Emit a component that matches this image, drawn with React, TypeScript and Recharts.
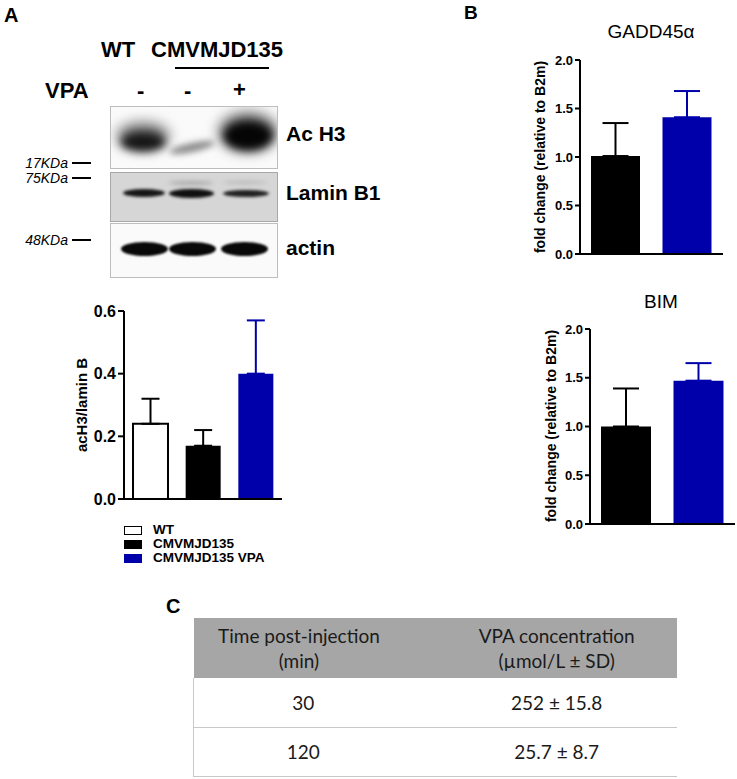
import React from 'react';
import { BarChart, Bar, XAxis, YAxis, ErrorBar, Cell } from 'recharts';

// panel A quantification
const acCategories = ['WT', 'CMVMJD135', 'CMVMJD135 VPA'];
const acValues = [0.24, 0.17, 0.4];
const acErrors = [0.08, 0.05, 0.17];
const acTicks = [0, 0.2, 0.4, 0.6];

// panel B qPCR
const geneGroups = ['CMVMJD135', 'CMVMJD135 VPA'];
const gaddValues = [1.01, 1.41];
const gaddErrors = [0.34, 0.27];
const bimValues = [1.0, 1.47];
const bimErrors = [0.39, 0.18];
const foldTicks = [0, 0.5, 1, 1.5, 2];

// panel C table
const tableHeader = [['Time post-injection', '(min)'], ['VPA concentration', '(\u00b5mol/L \u00b1 SD)']];
const tableTimes = ['30', '120'];
const tableConc = ['252 \u00b1 15.8', '25.7 \u00b1 8.7'];

const BLUE = '#0000aa';
const groupFill: Record<string, string> = { WT: '#ffffff', CMVMJD135: '#000000', 'CMVMJD135 VPA': BLUE };
const ARIAL = 'Arial, "Liberation Sans", sans-serif';

const toRows = (names: string[], values: number[], errors: number[]) =>
  names.map((name, i) => ({
    name,
    value: values[i],
    errDark: groupFill[name] !== BLUE ? [0, errors[i]] : undefined,
    errBlue: groupFill[name] === BLUE ? [0, errors[i]] : undefined,
  }));

const acData = toRows(acCategories, acValues, acErrors);
const gaddData = toRows(geneGroups, gaddValues, gaddErrors);
const bimData = toRows(geneGroups, bimValues, bimErrors);

const T: React.FC<{ x: number; y: number; size: number; bold?: boolean; italic?: boolean; children: React.ReactNode }> = ({ x, y, size, bold, italic, children }) => (
  <div style={{ position: 'absolute', left: x, top: y, fontSize: size, lineHeight: 1, fontWeight: bold ? 'bold' : 'normal', fontStyle: italic ? 'italic' : 'normal', fontFamily: ARIAL, whiteSpace: 'nowrap', color: '#000' }}>
    {children}
  </div>
);

const VLabel: React.FC<{ cx: number; cy: number; size: number; children: React.ReactNode }> = ({ cx, cy, size, children }) => (
  <div style={{ position: 'absolute', left: cx, top: cy, transform: 'translate(-50%, -50%) rotate(-90deg)', fontSize: size, lineHeight: 1, fontWeight: 'bold', fontFamily: ARIAL, whiteSpace: 'nowrap' }}>
    {children}
  </div>
);

const blob = (l: number, t: number, w: number, h: number, bg: string, blur: number, extra: React.CSSProperties = {}) => (
  <div style={{ position: 'absolute', left: l, top: t, width: w, height: h, background: bg, borderRadius: '50%', filter: `blur(${blur}px)`, ...extra }} />
);

const KDa: React.FC<{ y: number; label: string }> = ({ y, label }) => (
  <>
    <div style={{ position: 'absolute', right: 737 - 68, top: y - 7, fontSize: 14, lineHeight: 1, fontStyle: 'italic', fontFamily: ARIAL }}>{label}</div>
    <div style={{ position: 'absolute', left: 72, top: y - 1, width: 19, height: 2, background: '#000' }} />
  </>
);

const Blot = () => (
  <>
    {/* Ac H3 */}
    <div style={{ position: 'absolute', left: 110, top: 106, width: 168, height: 63, border: '1px solid #bdbdbd', background: '#fafafa', overflow: 'hidden', boxSizing: 'border-box' }}>
      {blob(6, 16, 52, 26, '#666', 7)}
      {blob(10, 26, 44, 18, '#151515', 4)}
      {blob(58, 36, 46, 9, '#8a8a8a', 3, { transform: 'rotate(-12deg)' })}
      {blob(108, 6, 58, 38, '#555', 7)}
      {blob(113, 15, 48, 28, '#050505', 4)}
    </div>
    {/* Lamin B1 */}
    <div style={{ position: 'absolute', left: 110, top: 172, width: 168, height: 50, border: '1px solid #a8a8a8', background: '#d6d6d6', overflow: 'hidden', boxSizing: 'border-box' }}>
      {blob(58, 8, 44, 4, '#aaa', 2)}
      {blob(112, 8, 44, 3, '#b5b5b5', 2)}
      {blob(12, 16, 42, 8, '#151515', 1.5)}
      {blob(58, 16, 45, 9, '#101010', 1.5)}
      {blob(112, 17, 46, 7, '#202020', 1.5)}
    </div>
    {/* actin */}
    <div style={{ position: 'absolute', left: 110, top: 223, width: 168, height: 55, border: '1px solid #bdbdbd', background: '#fafafa', overflow: 'hidden', boxSizing: 'border-box' }}>
      {blob(10, 18, 47, 14, '#080808', 1)}
      {blob(58, 18, 47, 14, '#080808', 1)}
      {blob(110, 18, 47, 14, '#080808', 1)}
    </div>
  </>
);

const axisStyle = { stroke: '#000', strokeWidth: 2 };

const FoldChart: React.FC<{ data: any[]; left: number; top: number; marginLeft: number; marginTop: number; marginRight: number; barSize: number; cap: number }> = ({ data, left, top, marginLeft, marginTop, marginRight, barSize, cap }) => (
  <div style={{ position: 'absolute', left, top }}>
    <BarChart width={297} height={230} data={data} margin={{ top: marginTop, right: marginRight, left: marginLeft, bottom: 6 }}>
      <XAxis dataKey="name" tick={false} tickLine={false} axisLine={axisStyle} height={10} />
      <YAxis
        width={30}
        domain={[0, 2]}
        ticks={foldTicks}
        interval={0}
        tickSize={5}
        tickLine={axisStyle}
        axisLine={axisStyle}
        tickFormatter={(v: number) => v.toFixed(1)}
        tick={{ fill: '#000', fontSize: 13, fontWeight: 'bold', fontFamily: ARIAL }}
      />
      <Bar dataKey="value" barSize={barSize} isAnimationActive={false}>
        {data.map((d) => (
          <Cell key={d.name} fill={groupFill[d.name]} />
        ))}
        <ErrorBar dataKey="errDark" width={cap} stroke="#000" strokeWidth={2} isAnimationActive={false} />
        <ErrorBar dataKey="errBlue" width={cap} stroke={BLUE} strokeWidth={2} isAnimationActive={false} />
      </Bar>
    </BarChart>
  </div>
);

export default function App() {
  return (
    <div style={{ position: 'absolute', left: 0, top: 0, width: 737, height: 779, background: '#fff', fontFamily: ARIAL, overflow: 'hidden' }}>
      {/* Panel A */}
      <T x={4} y={5} size={20} bold>A</T>
      <T x={101} y={39} size={22} bold>WT</T>
      <T x={151} y={39} size={22} bold>CMVMJD135</T>
      <div style={{ position: 'absolute', left: 175, top: 67, width: 94, height: 2, background: '#000' }} />
      <T x={45} y={80} size={22} bold>VPA</T>
      <T x={137} y={80} size={22} bold>-</T>
      <T x={184} y={80} size={22} bold>-</T>
      <T x={233} y={79} size={22} bold>+</T>
      <Blot />
      <T x={286} y={123} size={21} bold>Ac H3</T>
      <T x={286} y={182} size={21} bold>Lamin B1</T>
      <T x={286} y={237} size={21} bold>actin</T>
      <KDa y={163} label="17KDa" />
      <KDa y={178} label="75KDa" />
      <KDa y={240} label="48KDa" />

      <div style={{ position: 'absolute', left: 0, top: 290 }}>
        <BarChart width={300} height={220} data={acData} margin={{ top: 21, right: 18, left: 84, bottom: 1 }}>
          <XAxis dataKey="name" tick={false} tickLine={false} axisLine={axisStyle} height={10} />
          <YAxis
            width={40}
            domain={[0, 0.6]}
            ticks={acTicks}
            interval={0}
            tickSize={6}
            tickLine={axisStyle}
            axisLine={axisStyle}
            tickFormatter={(v: number) => v.toFixed(1)}
            tick={{ fill: '#000', fontSize: 16, fontWeight: 'bold', fontFamily: ARIAL }}
          />
          <Bar dataKey="value" barSize={35} isAnimationActive={false}>
            {acData.map((d) => (
              <Cell key={d.name} fill={groupFill[d.name]} stroke="#000" strokeWidth={d.name === 'WT' ? 2 : 0} />
            ))}
            <ErrorBar dataKey="errDark" width={9} stroke="#000" strokeWidth={2} isAnimationActive={false} />
            <ErrorBar dataKey="errBlue" width={9} stroke={BLUE} strokeWidth={2} isAnimationActive={false} />
          </Bar>
        </BarChart>
      </div>
      <VLabel cx={81} cy={405} size={15}>acH3/lamin B</VLabel>

      {acCategories.map((c, i) => (
        <React.Fragment key={c}>
          <div style={{ position: 'absolute', left: 124, top: 526 + i * 14, width: 18, height: 9, background: groupFill[c], border: '1.5px solid #000', boxSizing: 'border-box', ...(groupFill[c] === BLUE ? { borderColor: BLUE } : {}) }} />
          <T x={153} y={523 + i * 14} size={13.5} bold>{c}</T>
        </React.Fragment>
      ))}

      {/* Panel B */}
      <T x={464} y={3} size={19} bold>B</T>
      <div style={{ position: 'absolute', left: 651, top: 22, transform: 'translateX(-50%)', fontSize: 19, lineHeight: 1, fontFamily: ARIAL }}>GADD45{'\u03b1'}</div>
      <FoldChart data={gaddData} left={440} top={40} marginLeft={110} marginTop={20} marginRight={14} barSize={49} cap={13} />
      <VLabel cx={540} cy={157} size={14}>fold change (relative to B2m)</VLabel>

      <div style={{ position: 'absolute', left: 661, top: 292, transform: 'translateX(-50%)', fontSize: 19, lineHeight: 1, fontFamily: ARIAL }}>BIM</div>
      <FoldChart data={bimData} left={440} top={310} marginLeft={120} marginTop={19} marginRight={2} barSize={50} cap={13} />
      <VLabel cx={551} cy={426} size={14}>fold change (relative to B2m)</VLabel>

      {/* Panel C */}
      <T x={166} y={596} size={20} bold>C</T>
      <table style={{ position: 'absolute', left: 193, top: 618, width: 484, borderCollapse: 'collapse', fontFamily: 'Lato, "Open Sans", sans-serif', fontSize: 19, color: '#1a1a1a' }}>
        <thead>
          <tr style={{ background: '#a6a6a6', height: 60 }}>
            {tableHeader.map((h, i) => (
              <th key={i} style={{ fontWeight: 'normal', lineHeight: '25px', padding: 0, paddingLeft: i === 1 ? 32 : 0, width: i === 0 ? 228 : 256 }}>
                {h[0]}
                <br />
                {h[1]}
              </th>
            ))}
          </tr>
        </thead>
        <tbody>
          {tableTimes.map((t, i) => (
            <tr key={t} style={{ height: 49, borderBottom: '1.5px solid #c8c8c8' }}>
              <td style={{ textAlign: 'center', padding: 0, paddingLeft: 8, borderLeft: '1.5px solid #c8c8c8' }}>{t}</td>
              <td style={{ textAlign: 'center', padding: 0, paddingLeft: 32 }}>{tableConc[i]}</td>
            </tr>
          ))}
        </tbody>
      </table>
    </div>
  );
}
